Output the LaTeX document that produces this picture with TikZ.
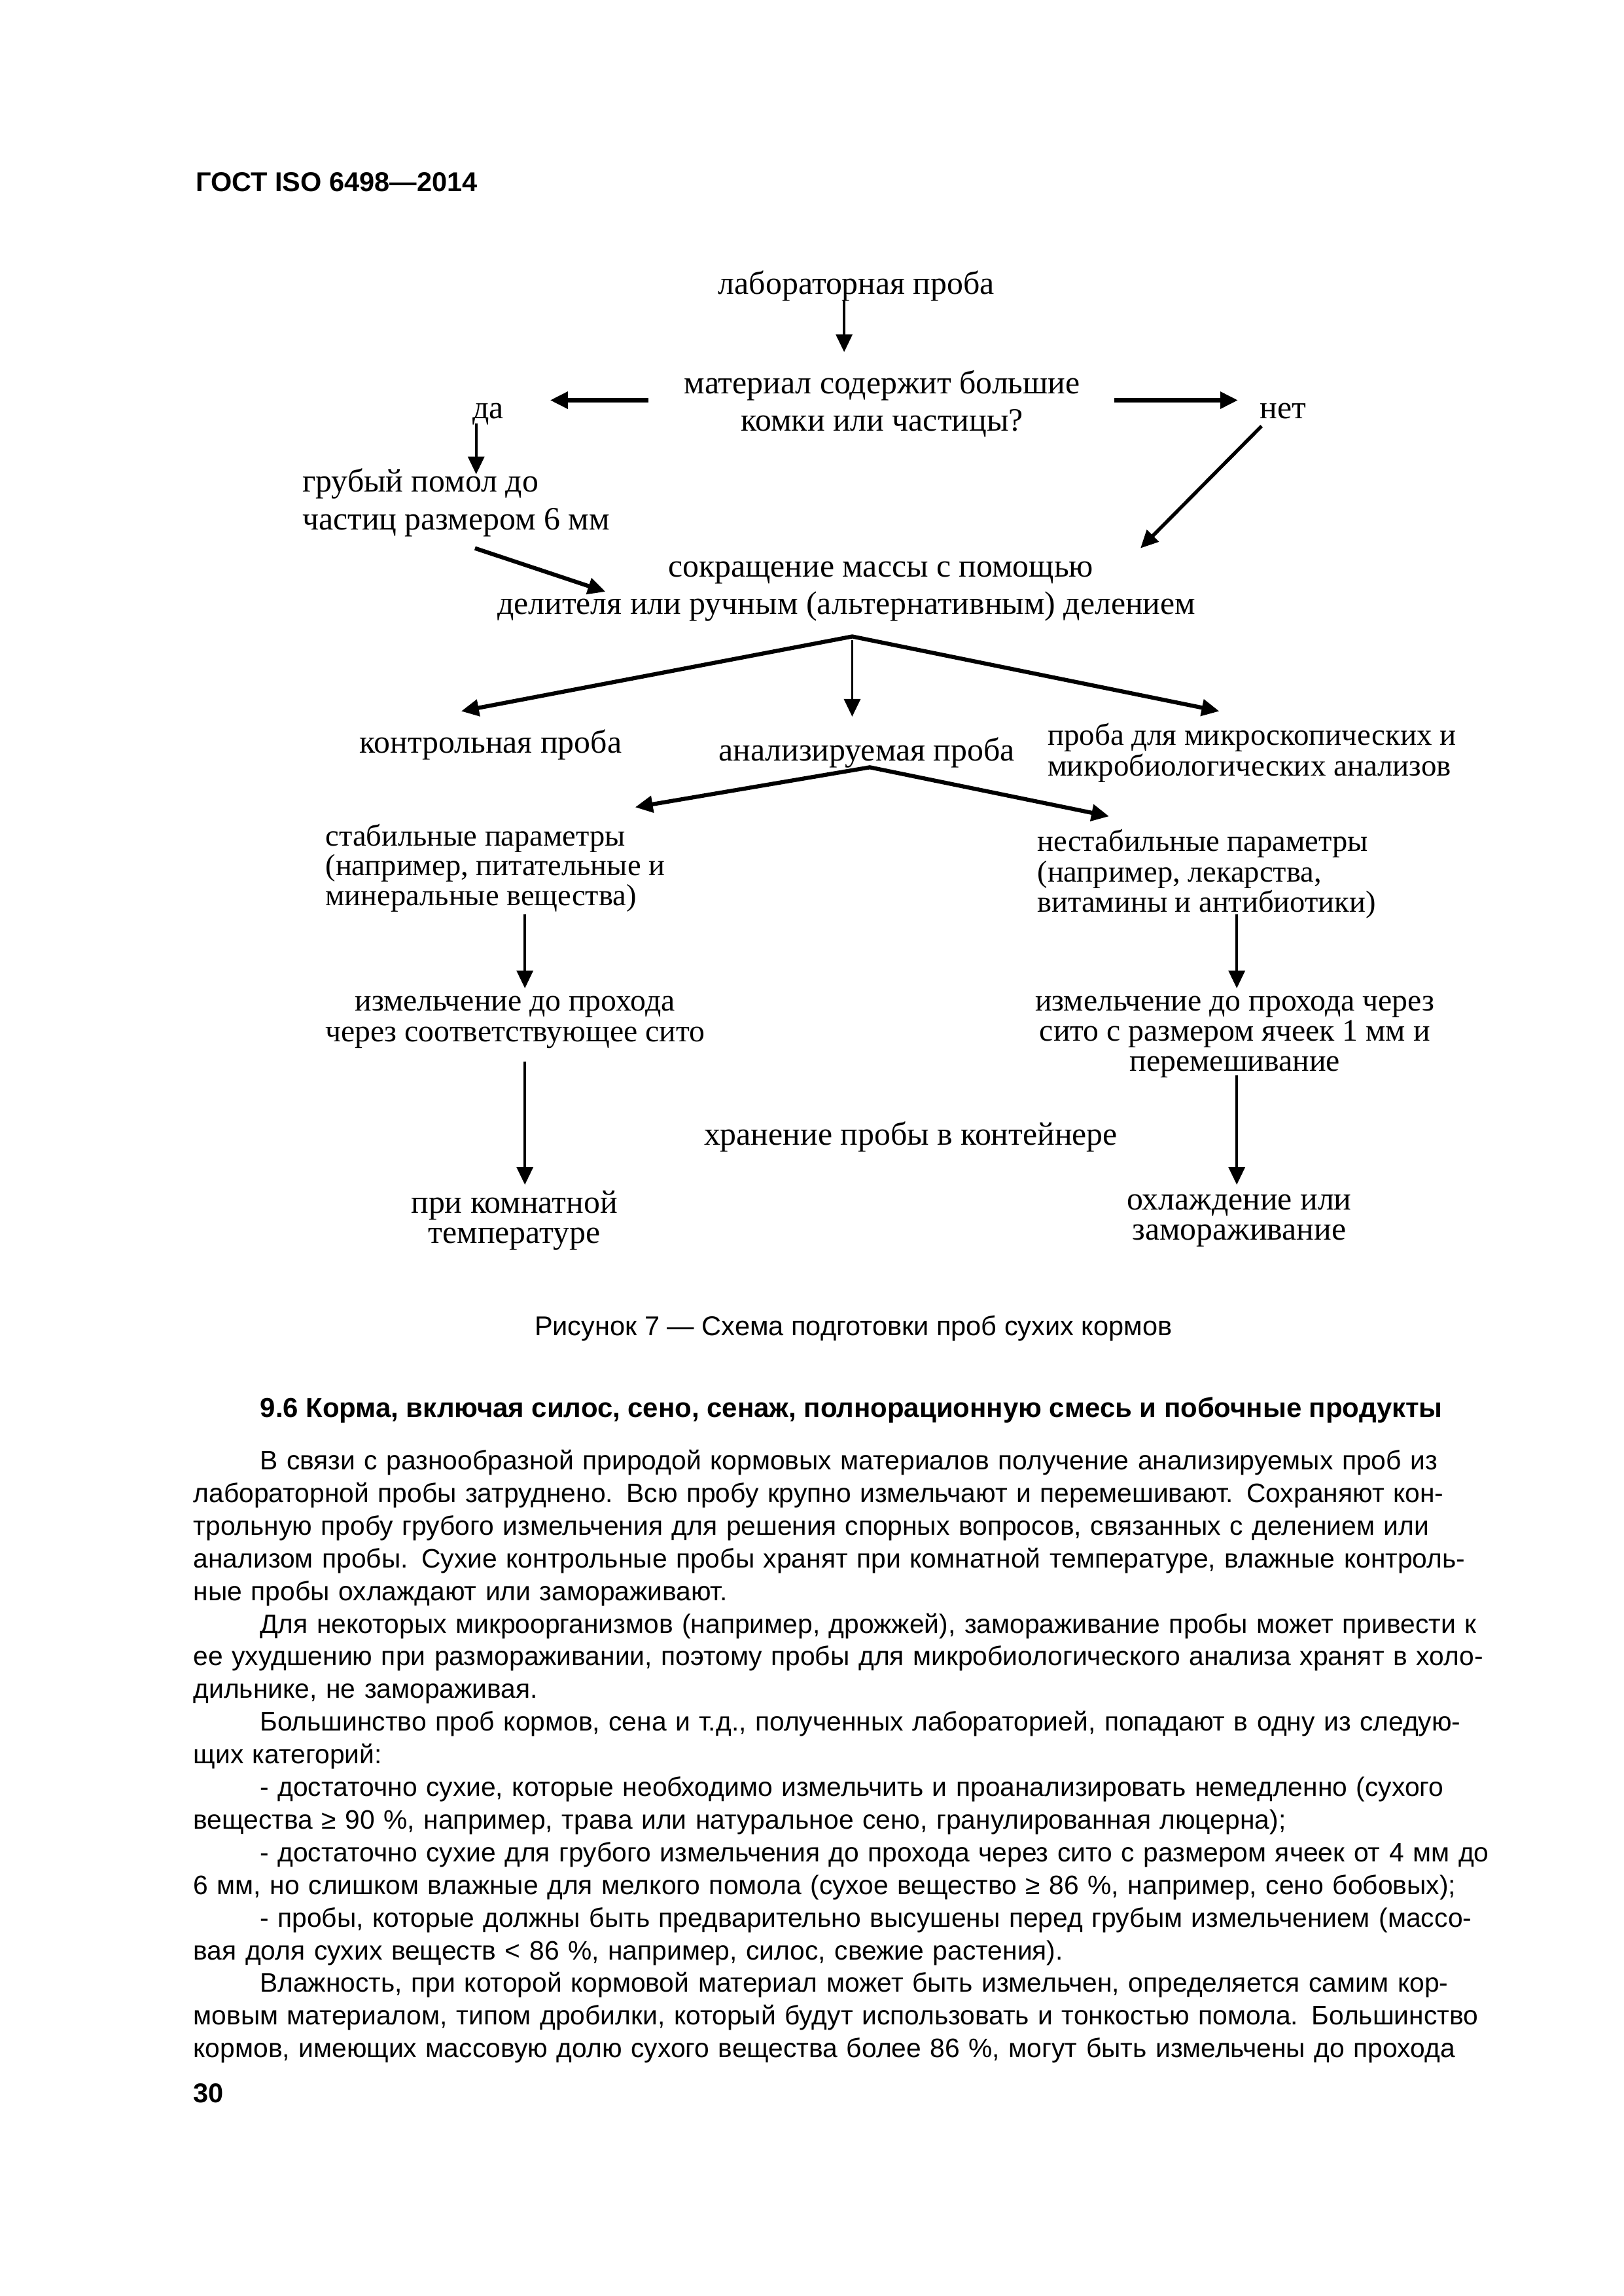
\documentclass[tikz,border=0pt]{standalone}
\usepackage{fontspec}
\setmainfont{Liberation Serif}
\newfontfamily\arialf{Liberation Sans}
\usetikzlibrary{arrows.meta}
\newcommand\dfnt[1]{\fontsize{12}{#1}\selectfont}
\newcommand\dfs[2]{\fontsize{#1}{#2}\selectfont}
\newcommand\jln[1]{\par\hbox to\hsize{#1}}
\newcommand\iln[1]{\par\hbox to\hsize{\kern24.5pt #1}}
\newcommand\lastln[1]{\par\hbox{#1}}
\begin{document}
\begin{tikzpicture}[x=0.18993mm,y=-0.18993mm,
  lbl/.style={inner sep=0pt, outer sep=0pt, font=\dfnt{13.8}},
  sfont/.style={inner sep=0pt, outer sep=0pt, font=\arialf\fontsize{10}{12}\selectfont},
  bfont/.style={inner sep=0pt, outer sep=0pt, font=\arialf\bfseries\fontsize{10}{12}\selectfont},
  tarrow/.style={line width=0.9pt, -{Triangle[length=6.5pt,width=6pt]}},
  karrow/.style={line width=1.5pt, -{Triangle[length=6.5pt,width=6pt]}},
  karrowtwo/.style={line width=1.5pt, line join=miter, {Triangle[length=6.5pt,width=6pt]}-{Triangle[length=6.5pt,width=6pt]}},
  marrow/.style={line width=1.3pt, -{Triangle[length=6.5pt,width=6pt]}}
  ]
\useasboundingbox (0,0) rectangle (1106,1563.8);
\fill[white] (0,0) rectangle (1106,1563.8);

% header
\node[bfont, anchor=base west] (hdr) at (133.3,130.4) {ГОСТ ISO 6498—2014};

% diagram texts
\node[lbl] (lab) at (583.5,195) {лабораторная проба};
\node[lbl, align=center, font=\dfnt{13.8}] (mat) at (601,275) {материал содержит большие\\комки или частицы?};
\node[lbl] (da) at (332.6,282) {да};
\node[lbl, anchor=west] (net) at (858.3,279.8) {нет};
\node[lbl, anchor=west, align=left, font=\dfnt{13.9}] (grub) at (206,342.2) {грубый помол до\\частиц размером 6 мм};
\node[lbl, anchor=west, align=left, font=\dfnt{13.7}] (sokr) at (338.8,402.8) {\hspace*{62.9pt}сокращение массы с помощью\\делителя или ручным (альтернативным) делением};
\node[lbl] (kontr) at (334.3,507.5) {контрольная проба};
\node[lbl] (anal) at (590.4,512.7) {анализируемая проба};
\node[lbl, anchor=west, align=left, font={\dfs{11.3}{11.2}}] (mikro) at (713.8,512.7) {проба для микроскопических и\\микробиологических анализов};
\node[lbl, anchor=west, align=left, font={\dfs{11.2}{11.0}}] (stab) at (221.8,591.1) {стабильные параметры\\(например, питательные и\\минеральные вещества)};
\node[lbl, anchor=west, align=left, font={\dfs{11.2}{11.2}}] (nestab) at (706.8,595.3) {нестабильные параметры\\(например, лекарства,\\витамины и антибиотики)};
\node[lbl, align=center, font={\dfs{11.5}{11.2}}] (izmL) at (350.9,696.2) {измельчение до прохода\\через соответствующее сито};
\node[lbl, align=center, font={\dfs{11.5}{11.0}}] (izmR) at (841.3,706.2) {измельчение до прохода через\\сито с размером ячеек 1 мм и\\перемешивание};
\node[lbl] (hran) at (620.5,774.5) {хранение пробы в контейнере};
\node[lbl, align=center, font=\dfnt{11.2}] (komn) at (350.4,831.4) {при комнатной\\температуре};
\node[lbl, align=center, font=\dfnt{11.2}] (ohl) at (844.2,831.4) {охлаждение или\\замораживание};

% arrow end points
\coordinate (a1s) at (575.1,204.6);  \coordinate (a1e) at (575.1,239.8);
\coordinate (a2s) at (441.7,272.6);  \coordinate (a2e) at (374.8,272.6);
\coordinate (a3s) at (759.3,272.6);  \coordinate (a3e) at (843.4,272.6);
\coordinate (a4s) at (324.4,288.6);  \coordinate (a4e) at (324.4,323);
\coordinate (a5s) at (323.6,373.4);  \coordinate (a5e) at (412.5,403);
\coordinate (a6s) at (859.5,290.2);  \coordinate (a6e) at (777,373.4);
\coordinate (apex) at (580.6,433.5);
\coordinate (a7e) at (314.2,484.4);  \coordinate (a9e) at (830.7,484.4);
\coordinate (a8s) at (580.6,436.1);  \coordinate (a8e) at (580.6,488.1);
\coordinate (apexb) at (592.6,522.6);
\coordinate (a10e) at (432.7,549.8); \coordinate (a11e) at (755.6,556);
\coordinate (a12s) at (357.6,622.6); \coordinate (a12e) at (357.6,673.1);
\coordinate (a13s) at (842.6,622.6); \coordinate (a13e) at (842.6,673.1);
\coordinate (a14s) at (357.6,722.9); \coordinate (a14e) at (357.6,806.9);
\coordinate (a15s) at (842.6,732.6); \coordinate (a15e) at (842.6,806.9);

\draw[tarrow] (a1s) -- (a1e);
\draw[karrow] (a2s) -- (a2e);
\draw[karrow] (a3s) -- (a3e);
\draw[tarrow] (a4s) -- (a4e);
\draw[karrow] (a5s) -- (a5e);
\draw[marrow] (a6s) -- (a6e);
\draw[karrowtwo] (a7e) -- (apex) -- (a9e);
\draw[tarrow] (a8s) -- (a8e);
\draw[karrowtwo] (a10e) -- (apexb) -- (a11e);
\draw[tarrow] (a12s) -- (a12e);
\draw[tarrow] (a13s) -- (a13e);
\draw[tarrow] (a14s) -- (a14e);
\draw[tarrow] (a15s) -- (a15e);

% caption
\node[sfont, anchor=base] (cap) at (581.4,909.8) {Рисунок 7 — Схема подготовки проб сухих кормов};

% section heading
\node[inner sep=0pt, outer sep=0pt, anchor=base west, font=\arialf\bfseries\fontsize{10.1}{12}\selectfont] (head) at (177.3,965.5) {9.6 Корма, включая силос, сено, сенаж, полнорационную смесь и побочные продукты};

% body text
\node[inner sep=0pt, outer sep=0pt, anchor=north west, text width=470.5pt, font=\arialf\fontsize{9.82}{12.02}\selectfont] (body) at (131.8,978.8) {%
\iln{\rule{0pt}{9pt}В связи с разнообразной природой кормовых материалов получение анализируемых проб из}
\jln{лабораторной пробы затруднено. Всю пробу крупно измельчают и перемешивают. Сохраняют кон-}
\jln{трольную пробу грубого измельчения для решения спорных вопросов, связанных с делением или}
\jln{анализом пробы. Сухие контрольные пробы хранят при комнатной температуре, влажные контроль-}
\lastln{ные пробы охлаждают или замораживают.}
\iln{Для некоторых микроорганизмов (например, дрожжей), замораживание пробы может привести к}
\jln{ее ухудшению при размораживании, поэтому пробы для микробиологического анализа хранят в холо-}
\lastln{дильнике, не замораживая.}
\iln{Большинство проб кормов, сена и т.д., полученных лабораторией, попадают в одну из следую-}
\lastln{щих категорий:}
\iln{- достаточно сухие, которые необходимо измельчить и проанализировать немедленно (сухого}
\lastln{вещества ≥ 90 \%, например, трава или натуральное сено, гранулированная люцерна);}
\iln{- достаточно сухие для грубого измельчения до прохода через сито с размером ячеек от 4 мм до}
\lastln{6 мм, но слишком влажные для мелкого помола (сухое вещество ≥ 86 \%, например, сено бобовых);}
\iln{- пробы, которые должны быть предварительно высушены перед грубым измельчением (массо-}
\lastln{вая доля сухих веществ < 86 \%, например, силос, свежие растения).}
\iln{Влажность, при которой кормовой материал может быть измельчен, определяется самим кор-}
\jln{мовым материалом, типом дробилки, который будут использовать и тонкостью помола. Большинство}
\jln{кормов, имеющих массовую долю сухого вещества более 86 \%, могут быть измельчены до прохода}%
};

% page number
\node[bfont, anchor=base west] (pnum) at (131.8,1432) {30};
\end{tikzpicture}
\end{document}
